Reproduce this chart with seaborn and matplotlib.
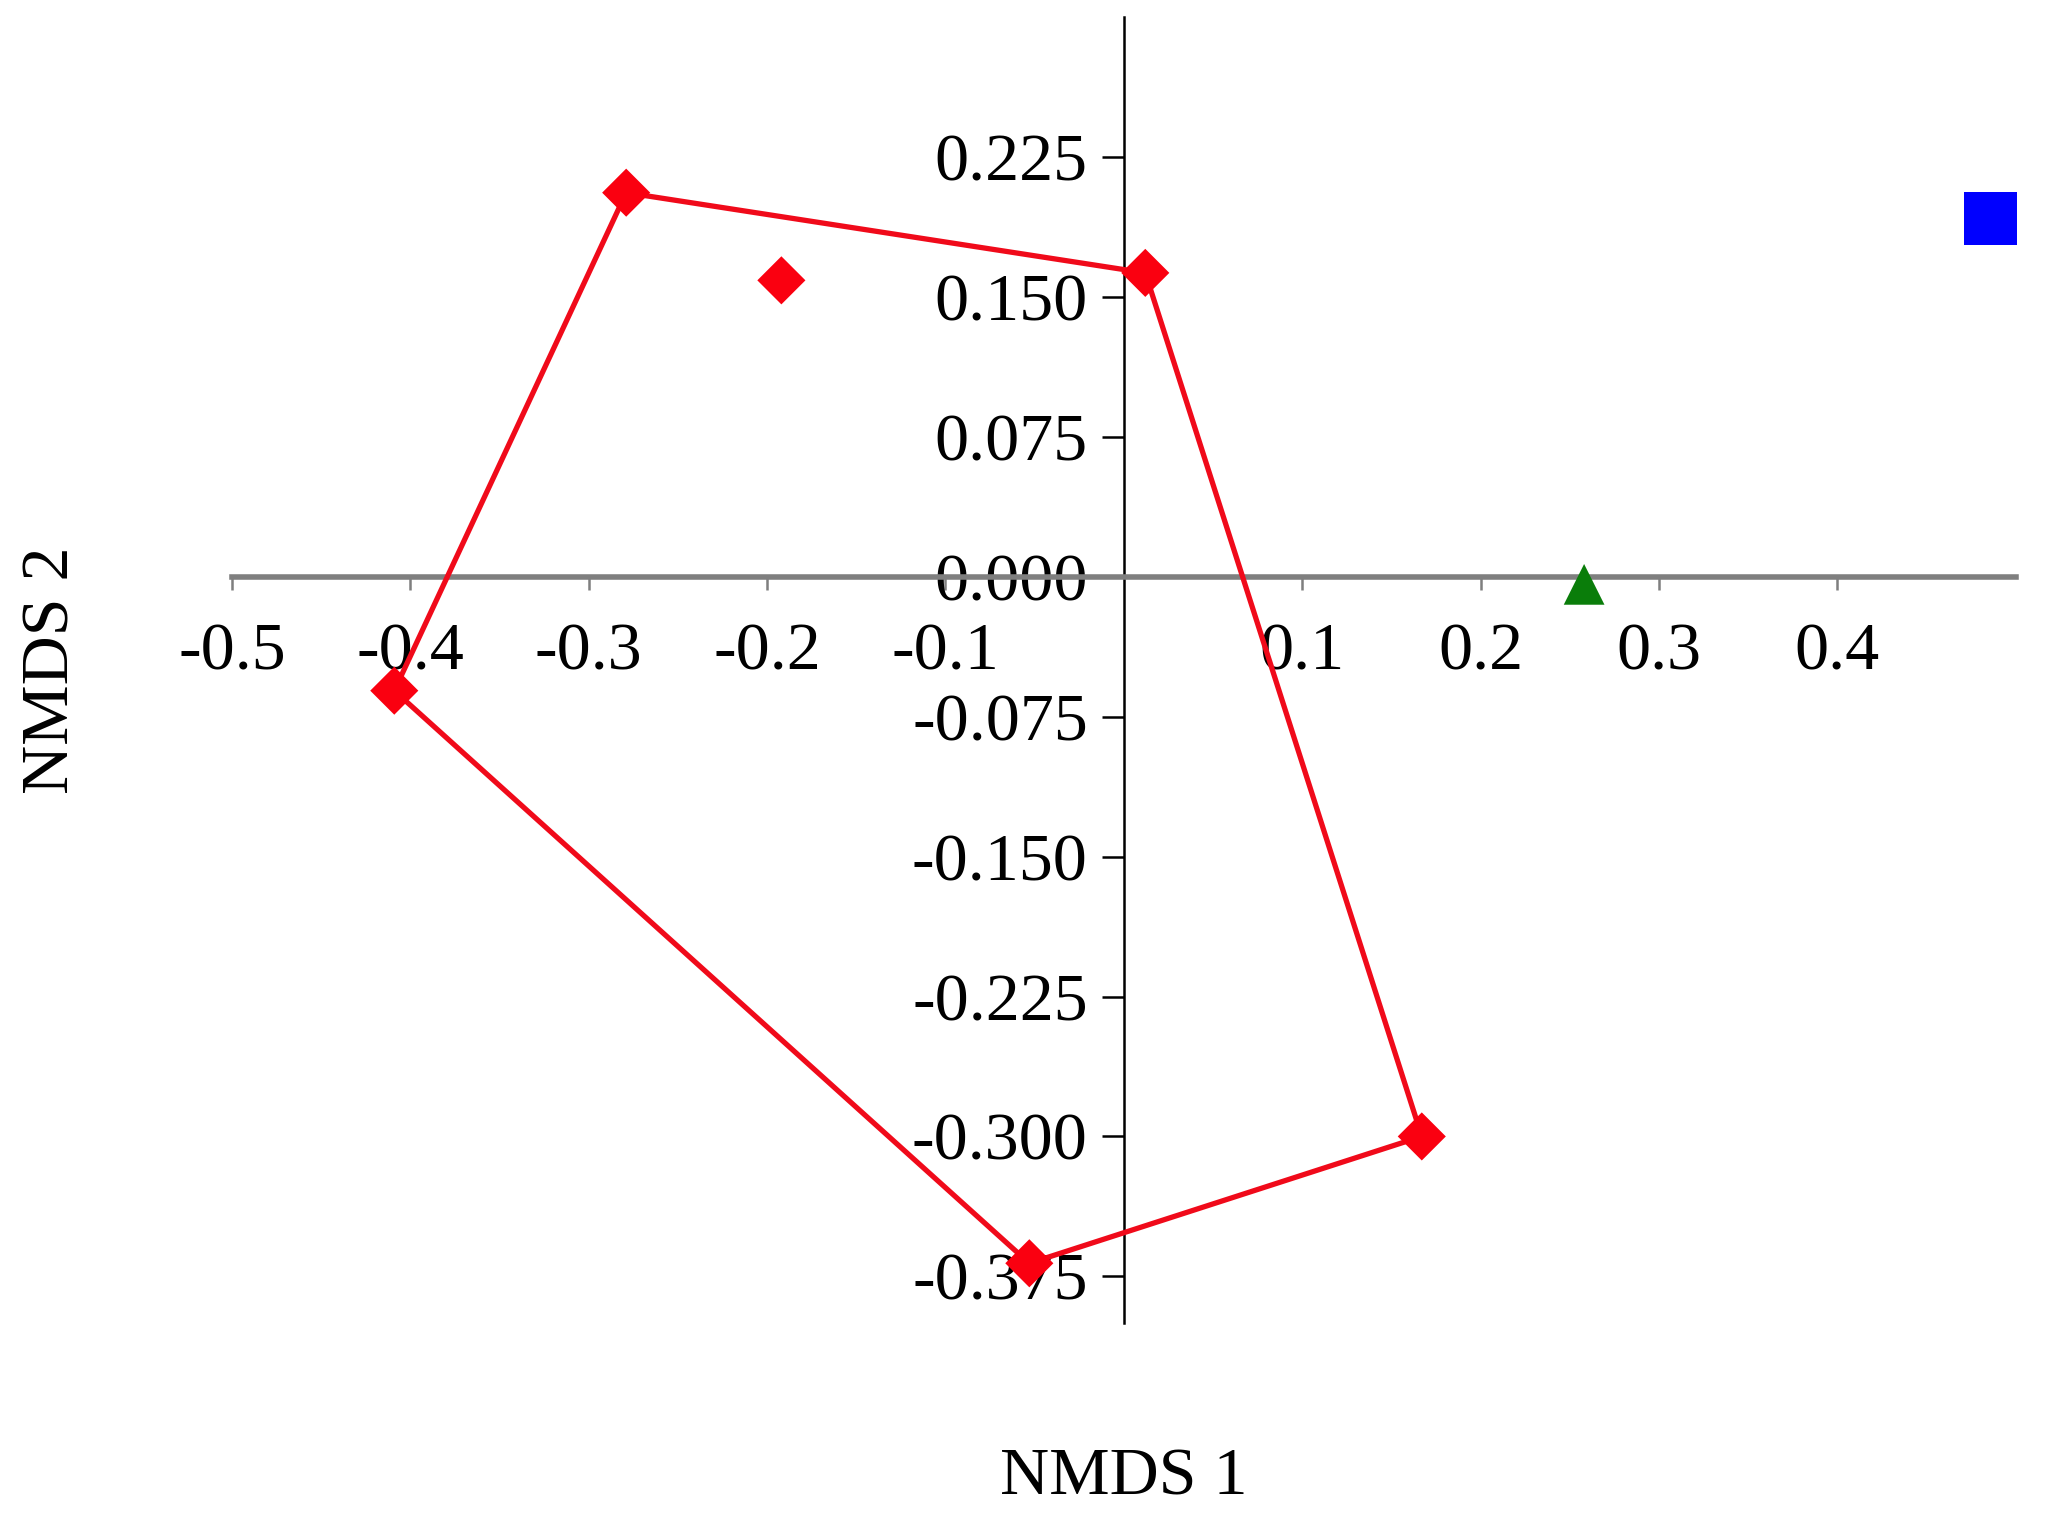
import matplotlib
matplotlib.use("Agg")
import matplotlib.pyplot as plt
import seaborn as sns
import pandas as pd

# ---- data ----
group_names = ["Group 1", "Group 2", "Group 3"]
red_x = [-0.279, -0.192, 0.012, -0.409, -0.053, 0.167]
red_y = [0.206, 0.159, 0.163, -0.061, -0.368, -0.300]
hull_order = [0, 2, 5, 4, 3, 0]
green_x = [0.258]
green_y = [-0.004]
blue_x = [0.486]
blue_y = [0.192]

x_ticks = [-0.5, -0.4, -0.3, -0.2, -0.1, 0.1, 0.2, 0.3, 0.4]
x_tick_labels = ["-0.5", "-0.4", "-0.3", "-0.2", "-0.1", "0.1", "0.2", "0.3", "0.4"]
y_ticks = [0.225, 0.150, 0.075, 0.000, -0.075, -0.150, -0.225, -0.300, -0.375]
y_tick_labels = ["0.225", "0.150", "0.075", "0.000", "-0.075", "-0.150", "-0.225", "-0.300", "-0.375"]

sns.set_style("white")
plt.rcParams["font.family"] = ["Liberation Serif", "DejaVu Serif"]
plt.rcParams["axes.unicode_minus"] = False

df = pd.DataFrame({
    "NMDS1": red_x + green_x + blue_x,
    "NMDS2": red_y + green_y + blue_y,
    "group": [group_names[0]] * len(red_x) + [group_names[1]] * len(green_x) + [group_names[2]] * len(blue_x),
})
hull = pd.DataFrame({
    "NMDS1": [red_x[i] for i in hull_order],
    "NMDS2": [red_y[i] for i in hull_order],
})

fig = plt.figure(figsize=(20.49, 15.36), dpi=100)
ax = fig.add_axes([0.1132, 0.1387, 0.8706, 0.85])

palette = {group_names[0]: "#fa0010", group_names[1]: "#0a7d0a", group_names[2]: "#0000ff"}
markers = {group_names[0]: "D", group_names[1]: "^", group_names[2]: "s"}
sizes = {group_names[0]: 600, group_names[1]: 860, group_names[2]: 1440}

sns.lineplot(data=hull, x="NMDS1", y="NMDS2", sort=False, estimator=None,
             color="#f00a1a", linewidth=3.8, ax=ax, zorder=3)
sns.scatterplot(data=df, x="NMDS1", y="NMDS2", hue="group", style="group", size="group",
                palette=palette, markers=markers, sizes=sizes, linewidth=0,
                legend=False, ax=ax, zorder=4, clip_on=False)

ax.set_xlim(-0.5, 0.5)
ax.set_ylim(-0.4, 0.3)

ax.spines["top"].set_visible(False)
ax.spines["right"].set_visible(False)
ax.spines["left"].set_position(("data", 0))
ax.spines["bottom"].set_position(("data", 0))
ax.spines["left"].set_color("black")
ax.spines["left"].set_linewidth(1.8)
ax.spines["bottom"].set_color("#7f7f7f")
ax.spines["bottom"].set_linewidth(4.0)
ax.spines["bottom"].set_zorder(2)
ax.spines["left"].set_zorder(2)

ax.set_xticks(x_ticks)
ax.set_xticklabels(x_tick_labels)
ax.set_yticks(y_ticks)
ax.set_yticklabels(y_tick_labels)

ax.tick_params(axis="x", bottom=True, direction="out", length=9, width=1.8, color="#7f7f7f",
               labelcolor="black", labelsize=49, pad=24)
ax.tick_params(axis="y", left=True, direction="out", length=16, width=1.8, color="black",
               labelcolor="black", labelsize=49, pad=10)

ax.set_xlabel("NMDS 1", fontsize=49, va="center", color="black")
ax.set_ylabel("NMDS 2", fontsize=49, va="center", color="black")
ax.xaxis.set_label_coords(0.5, -0.119)
ax.yaxis.set_label_coords(-0.101, 0.5)

fig.savefig("out.png", dpi=100)
